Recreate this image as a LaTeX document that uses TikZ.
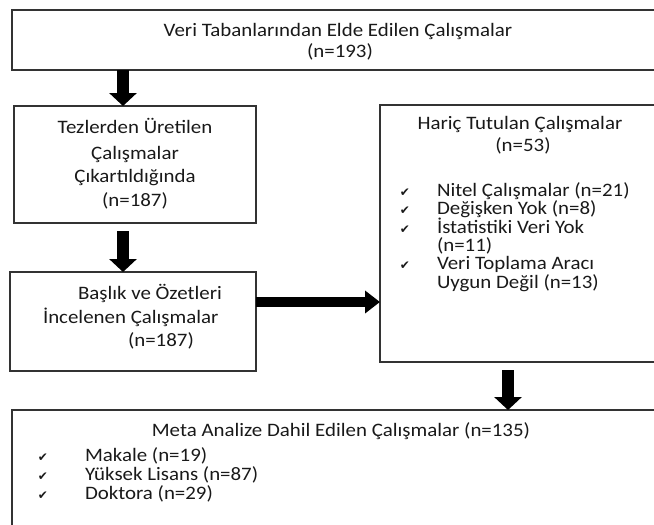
\documentclass[tikz,border=0pt]{standalone}
\usepackage{fontspec}
\setmainfont{Carlito}[FakeStretch=1.1]
\newfontfamily\checkfont{DejaVu Sans}
\usetikzlibrary{arrows.meta,calc}
\begin{document}
\begin{tikzpicture}[x=1pt,y=-1pt,
  box/.style={draw=black!80,line width=1.4pt,inner sep=0pt,outer sep=0pt,anchor=north west},
  txt/.style={inner sep=0pt,outer sep=0pt,font=\fontsize{19}{19}\selectfont,text=black!90},
  tick/.style={inner sep=0pt,outer sep=0pt,font=\checkfont\fontsize{12}{12}\selectfont,anchor=base,text=black!90},
  fat/.style={line width=12pt,-{Triangle[width=27pt,length=13pt]}},
  side/.style={line width=10pt,-{Triangle[width=22pt,length=15pt]}}]
\useasboundingbox (0,0) rectangle (654,525);
\clip (0,0) rectangle (654,525);
% boxes
\node[box,minimum width=688pt,minimum height=60pt] (top) at (12,10) {};
\node[box,minimum width=242pt,minimum height=117pt] (box2) at (14,106) {};
\node[box,minimum width=246pt,minimum height=99pt] (box3) at (10,272) {};
\node[box,minimum width=320pt,minimum height=257pt] (box4) at (380,105) {};
\node[box,minimum width=688pt,minimum height=150pt] (bot) at (12,410) {};
% top text
\node[txt,anchor=base] (t1) at (338,36) {Veri Tabanlarından Elde Edilen Çalışmalar};
\node[txt,anchor=base] (t2) at (340,57) {(n=193)};
% box2 text
\node[txt,anchor=base] (b2a) at (135,133) {Tezlerden Üretilen};
\node[txt,anchor=base] (b2b) at (135,159) {Çalışmalar};
\node[txt,anchor=base] (b2c) at (135,182) {Çıkartıldığında};
\node[txt,anchor=base] (b2d) at (135,206) {(n=187)};
% box3 text
\node[txt,anchor=base west] (b3a) at (78,299) {Başlık ve Özetleri};
\node[txt,anchor=base west] (b3b) at (43,323) {İncelenen Çalışmalar};
\node[txt,anchor=base west] (b3c) at (128,346) {(n=187)};
% box4 text
\node[txt,anchor=base] (b4a) at (520,129) {Hariç Tutulan Çalışmalar};
\node[txt,anchor=base] (b4b) at (523,151) {(n=53)};
\node[tick] (k1) at (405,196) {✔};
\node[txt,anchor=base west] (b4c) at (437,196) {Nitel Çalışmalar (n=21)};
\node[tick] (k2) at (405,214) {✔};
\node[txt,anchor=base west] (b4d) at (437,214) {Değişken Yok (n=8)};
\node[tick] (k3) at (405,233) {✔};
\node[txt,anchor=base west] (b4e) at (437,233) {İstatistiki Veri Yok};
\node[txt,anchor=base west] (b4f) at (437,251) {(n=11)};
\node[tick] (k4) at (405,269) {✔};
\node[txt,anchor=base west] (b4g) at (437,269) {Veri Toplama Aracı};
\node[txt,anchor=base west] (b4h) at (437,288) {Uygun Değil (n=13)};
% bottom text
\node[txt,anchor=base] (m0) at (341,436) {Meta Analize Dahil Edilen Çalışmalar (n=135)};
\node[tick] (k5) at (43,461) {✔};
\node[txt,anchor=base west] (m1) at (85,461) {Makale (n=19)};
\node[tick] (k6) at (43,480) {✔};
\node[txt,anchor=base west] (m2) at (85,480) {Yüksek Lisans (n=87)};
\node[tick] (k7) at (43,499) {✔};
\node[txt,anchor=base west] (m3) at (85,499) {Doktora (n=29)};
% arrows
\coordinate (c1) at ($(box2.north west)+(109,0)$);
\coordinate (c3) at ($(box4.south west)+(128,0)$);
\coordinate (h1) at ($(box3.north east)+(0,30)$);
\draw[fat] (top.south -| c1) -- (c1);
\draw[fat] ($(box2.south -| c1)+(0,8)$) -- (box3.north -| c1);
\draw[side] (h1) -- (h1 -| box4.west);
\draw[fat] ($(c3)+(0,8)$) -- (bot.north -| c3);
\end{tikzpicture}
\end{document}
